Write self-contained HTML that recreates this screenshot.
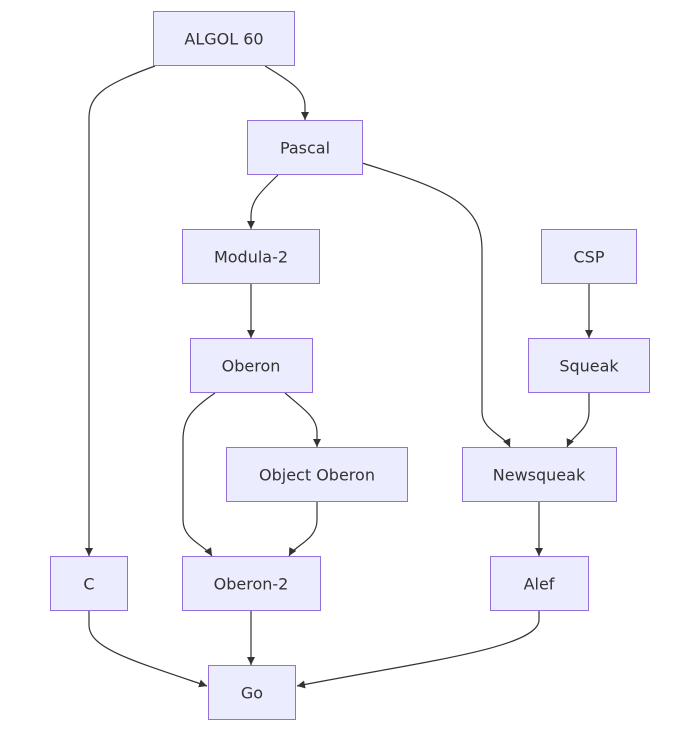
<!DOCTYPE html>
<html><head><meta charset="utf-8"><style>
html,body{margin:0;padding:0;background:#fff;}
svg{display:block}
text{font-family:"Trebuchet MS","DejaVu Sans","Liberation Sans",sans-serif;font-size:16px;fill:#333;text-anchor:middle;dominant-baseline:central}
rect{fill:#ECECFF;stroke:#9370DB;stroke-width:1}
path{fill:none;stroke:#333;stroke-width:1.2}
</style></head><body>
<svg width="688" height="739" viewBox="0 0 688 739" xmlns="http://www.w3.org/2000/svg">
<defs><marker id="a" viewBox="0 0 10 10" refX="10" refY="5" markerWidth="8" markerHeight="8" orient="auto" markerUnits="userSpaceOnUse"><path d="M0,0 L10,5 L0,10 z" style="fill:#333;stroke:none"/></marker></defs>
<g marker-end="url(#a)">
<path d="M265,66 C295,84 305,92 305,106 L305,120"/>
<path d="M155,66 C105,84 89,95 89,118 L89,556"/>
<path d="M278,175 C258,194 251,202 251,216 L251,229"/>
<path d="M362,163 C450,190 482,205 482,250 L482,412 C482,430 505,436 510,447"/>
<path d="M251,284 L251,338"/>
<path d="M589,284 L589,338"/>
<path d="M285,393 C305,410 317,418 317,432 L317,447"/>
<path d="M215,393 C190,410 183,420 183,440 L183,520 C183,540 205,545 212,556"/>
<path d="M317,502 L317,520 C317,540 295,545 289,556"/>
<path d="M589,393 L589,412 C589,430 572,436 567,447"/>
<path d="M539,502 L539,556"/>
<path d="M89,611 L89,625 C89,648 130,660 207,686"/>
<path d="M251,611 L251,665"/>
<path d="M539,611 L539,620 C539,648 420,662 297,686"/>
</g>
<rect x="153.5" y="11.5" width="141" height="54"/><text x="224" y="39">ALGOL 60</text>
<rect x="247.5" y="120.5" width="115" height="54"/><text x="305" y="148">Pascal</text>
<rect x="182.5" y="229.5" width="137" height="54"/><text x="251" y="257">Modula-2</text>
<rect x="541.5" y="229.5" width="95" height="54"/><text x="589" y="257">CSP</text>
<rect x="190.5" y="338.5" width="122" height="54"/><text x="251" y="366">Oberon</text>
<rect x="528.5" y="338.5" width="121" height="54"/><text x="589" y="366">Squeak</text>
<rect x="226.5" y="447.5" width="181" height="54"/><text x="317" y="475">Object Oberon</text>
<rect x="462.5" y="447.5" width="154" height="54"/><text x="539" y="475">Newsqueak</text>
<rect x="50.5" y="556.5" width="77" height="54"/><text x="89" y="584">C</text>
<rect x="182.5" y="556.5" width="138" height="54"/><text x="251" y="584">Oberon-2</text>
<rect x="490.5" y="556.5" width="98" height="54"/><text x="539" y="584">Alef</text>
<rect x="208.5" y="665.5" width="87" height="54"/><text x="252" y="693">Go</text>
</svg>
</body></html>
